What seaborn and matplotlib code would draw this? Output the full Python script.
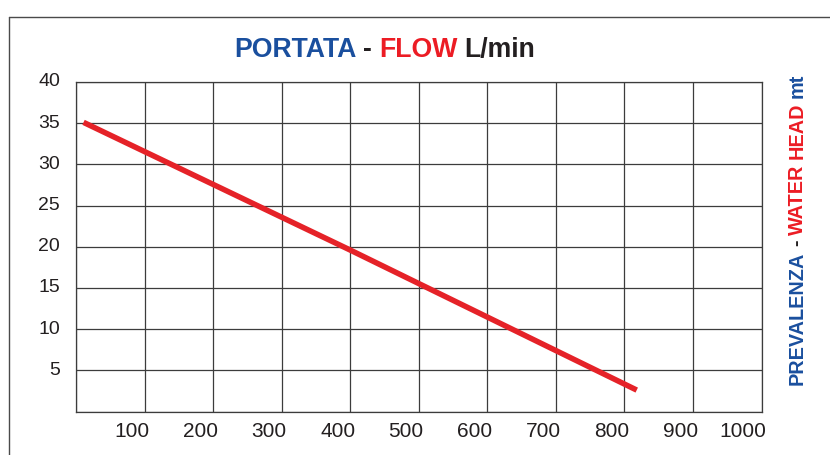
import matplotlib
matplotlib.use("Agg")
import matplotlib.pyplot as plt
import matplotlib.transforms as mtransforms
from matplotlib import font_manager
from matplotlib.lines import Line2D
import pandas as pd
import seaborn as sns

# curve
flow = [11, 400, 818]
head = [35.1, 19.6, 2.6]

x_ticks = [0, 100, 200, 300, 400, 500, 600, 700, 800, 900, 1000]
x_labels = ["", "100", "200", "300", "400", "500", "600", "700", "800", "900", "1000"]
y_ticks = [0, 5, 10, 15, 20, 25, 30, 35, 40]
y_labels = ["", "5", "10", "15", "20", "25", "30", "35", "40"]

BLUE = "#1a4f9e"
RED = "#ec1c24"
DARK = "#231f20"
GRID = "#3c3c3c"

title_parts = [("PORTATA", BLUE), ("-", DARK), ("FLOW", RED), ("L/min", DARK)]
side_parts = [("PREVALENZA", BLUE), ("-", DARK), ("WATER", RED), ("HEAD", RED), ("mt", BLUE)]

sns.set_theme(style="white")
plt.rcParams["font.family"] = ["Liberation Sans", "DejaVu Sans"]

names = {f.name for f in font_manager.fontManager.ttflist}
narrow = "Liberation Sans Narrow" if "Liberation Sans Narrow" in names else None

fig = plt.figure(figsize=(8.3, 4.56), dpi=100)
W, H = 830, 456
ax = fig.add_axes([76 / W, (H - 412.5) / H, (761.5 - 76) / W, (412.5 - 83) / H])

df = pd.DataFrame({"flow": flow, "head": head})
sns.lineplot(data=df, x="flow", y="head", ax=ax, color="#e52228", linewidth=4,
             solid_capstyle="butt")

ax.set_xlim(0, 1000)
ax.set_ylim(0, 40)
ax.set_xticks(x_ticks)
ax.set_xticklabels(x_labels, fontsize=15, color=DARK, ha="right")
ax.set_yticks(y_ticks)
ax.set_yticklabels(y_labels, fontsize=14, color=DARK)
ax.tick_params(axis="x", length=0, pad=7)
ax.tick_params(axis="y", length=0, pad=11.5)
ax.set_xlabel("")
ax.set_ylabel("")
ax.grid(True, color=GRID, linewidth=0.9)
for s in ax.spines.values():
    s.set_visible(True)
    s.set_color(GRID)
    s.set_linewidth(0.9)

dx = mtransforms.ScaledTranslation(0.05, 0, fig.dpi_scale_trans)
for lab in ax.get_xticklabels():
    lab.set_transform(lab.get_transform() + dx)
dy = mtransforms.ScaledTranslation(0, 0.03, fig.dpi_scale_trans)
for lab in ax.get_yticklabels():
    lab.set_transform(lab.get_transform() + dy)

# outer frame (only left and top edges visible)
fig.add_artist(Line2D([8.5 / W, 8.5 / W], [0, (H - 17.5) / H], transform=fig.transFigure,
                      color="#4a4a4a", linewidth=1.0))
fig.add_artist(Line2D([8.5 / W, 1], [(H - 17.5) / H, (H - 17.5) / H], transform=fig.transFigure,
                      color="#4a4a4a", linewidth=1.0))

renderer = fig.canvas.get_renderer()
ident = mtransforms.IdentityTransform()


def space_width(props):
    a = fig.text(0, 0, "P P", transform=ident, **props)
    b = fig.text(0, 0, "PP", transform=ident, **props)
    w = a.get_window_extent(renderer).width - b.get_window_extent(renderer).width
    a.remove()
    b.remove()
    return w


# title, one colour per word
tprops = dict(fontsize=19.2, fontweight="bold")
gap = space_width(tprops)
x = 234
for txt, col in title_parts:
    t = fig.text(x, H - 57.3, txt, color=col, transform=ident, ha="left", va="baseline", **tprops)
    x = t.get_window_extent(renderer).x1 + gap

# side label, rotated
if narrow:
    sprops = dict(fontsize=17.3, fontweight="bold", family=narrow)
else:
    sprops = dict(fontsize=14.3, fontweight="bold")
gap = space_width(sprops)
y = H - 385
for txt, col in side_parts:
    t = fig.text(802.7, y, txt, color=col, transform=ident, rotation=90,
                 rotation_mode="anchor", ha="left", va="baseline", **sprops)
    y = t.get_window_extent(renderer).y1 + gap

fig.savefig("out.png", dpi=100)
